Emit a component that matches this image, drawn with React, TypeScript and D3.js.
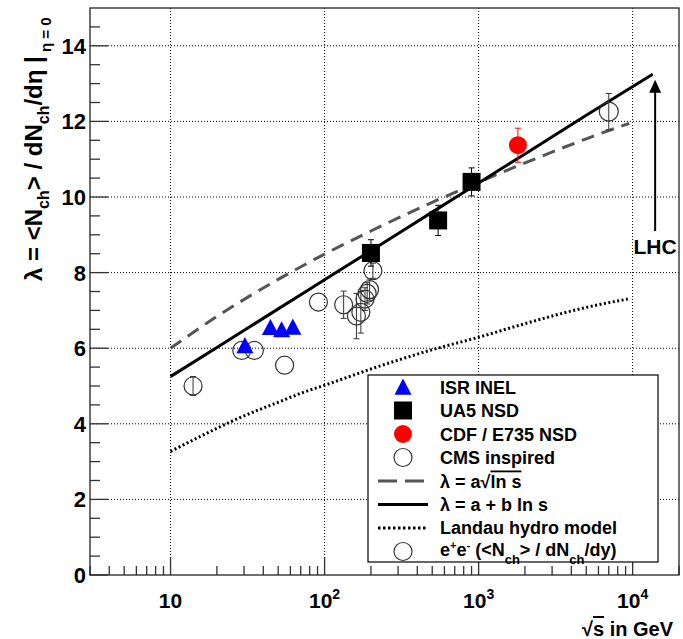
import React from "react";
import * as d3 from "d3";

// sqrt(s) in GeV and lambda values
const isrE = [30.4, 44.5, 52.6, 62.2];
const isrL = [6.07, 6.55, 6.49, 6.56];

const ua5E = [200, 546, 900];
const ua5L = [8.52, 9.38, 10.4];
const ua5Err = [0.35, 0.4, 0.37];

const cdfE = [1800];
const cdfL = [11.37];
const cdfErr = [0.45];

const cmsE = [7000];
const cmsL = [12.26];
const cmsErr = [0.48];

const eeE = [14, 29, 35, 55, 91.2, 133, 161, 172, 183, 189, 196, 206];
const eeL = [5.0, 5.94, 5.94, 5.55, 7.22, 7.15, 6.85, 6.95, 7.3, 7.45, 7.55, 8.05];
const eeErr = [0.25, 0, 0, 0, 0, 0.36, 0.6, 0.55, 0.3, 0.28, 0.28, 0.2];

// model curves, read at several energies
const sqrtLnE = [10, 20, 50, 100, 200, 500, 1000, 2000, 5000, 9500];
const sqrtLnL = [6.0, 6.84, 7.82, 8.49, 9.1, 9.86, 10.39, 10.9, 11.54, 11.95];

const linE = [10, 20, 50, 100, 200, 500, 1000, 2000, 5000, 13500];
const linL = [5.25, 6.02, 7.04, 7.81, 8.58, 9.6, 10.37, 11.14, 12.16, 13.25];

const landauE = [10, 20, 27, 50, 76, 100, 200, 500, 1000, 2000, 5000, 9300];
const landauL = [3.27, 3.88, 4.13, 4.57, 4.86, 5.02, 5.45, 5.96, 6.29, 6.65, 7.08, 7.3];

const lhcE = 14000;
const lhcL = [13.1, 9.1];

const xTicks = [10, 100, 1000, 10000];
const xTickExp = ["", "2", "3", "4"];
const yTicks = [0, 2, 4, 6, 8, 10, 12, 14];

const W = 683;
const H = 639;
const FONT = "'Liberation Sans', Arial, Helvetica, sans-serif";

const x = d3.scaleLog().domain([3, 20000]).range([90, 679]);
const y = d3.scaleLinear().domain([0, 15]).range([575, 8]);

const tri = (cx: number, cy: number, s = 8.5) =>
  `M${cx},${cy - s}L${cx + s},${cy + s * 0.9}L${cx - s},${cy + s * 0.9}Z`;

const ErrBar = ({ e, l, err, color }: { e: number; l: number; err: number; color: string }) => {
  if (!err) return null;
  const cx = x(e);
  return (
    <g stroke={color} strokeWidth={1}>
      <line x1={cx} x2={cx} y1={y(l + err)} y2={y(l - err)} />
      <line x1={cx - 3} x2={cx + 3} y1={y(l + err)} y2={y(l + err)} />
      <line x1={cx - 3} x2={cx + 3} y1={y(l - err)} y2={y(l - err)} />
    </g>
  );
};

export default function App() {
  const line = (es: number[], ls: number[]) =>
    d3
      .line<number>()
      .x((d) => x(es[d]))
      .y((d) => y(ls[d]))
      .curve(d3.curveMonotoneX)(d3.range(es.length)) as string;

  // minor ticks
  const xMinor: number[] = [];
  for (let dec = 1; dec <= 10000; dec *= 10)
    for (let k = 2; k <= 9; k++) {
      const v = k * dec;
      if (v >= 3 && v <= 20000) xMinor.push(v);
    }
  const yMinor = d3.range(0.5, 15, 0.5).filter((v) => v % 2 !== 0);

  const legendRows = [387, 410.5, 434, 457.5, 481, 504.5, 528, 551.5];
  const lx = 403;
  const tx = 440;

  return (
    <svg
      width={W}
      height={H}
      style={{ position: "absolute", left: 0, top: 0, background: "#fff" }}
      fontFamily={FONT}
      fontWeight="bold"
    >
      <rect width={W} height={H} fill="#fff" />

      {/* grid */}
      <g stroke="#000" strokeWidth={1} strokeDasharray="1,2">
        {xTicks.map((t) => (
          <line key={"gx" + t} x1={x(t)} x2={x(t)} y1={y(15)} y2={y(0)} />
        ))}
        {yTicks.filter((t) => t > 0).map((t) => (
          <line key={"gy" + t} x1={x(3)} x2={x(20000)} y1={y(t)} y2={y(t)} />
        ))}
      </g>

      {/* ticks */}
      <g stroke="#333" strokeWidth={1.3}>
        {xTicks.map((t) => (
          <line key={"xt" + t} x1={x(t)} x2={x(t)} y1={y(0)} y2={y(0) - 18} />
        ))}
        {xMinor.map((t) => (
          <line key={"xm" + t} x1={x(t)} x2={x(t)} y1={y(0)} y2={y(0) - 9} />
        ))}
        {yTicks.map((t) => (
          <line key={"yt" + t} x1={x(3)} x2={x(3) + 18} y1={y(t)} y2={y(t)} />
        ))}
        {yMinor.map((t) => (
          <line key={"ym" + t} x1={x(3)} x2={x(3) + 10} y1={y(t)} y2={y(t)} />
        ))}
      </g>

      {/* tick labels */}
      {yTicks.map((t) => (
        <text key={"yl" + t} x={86} y={y(t)} dy="0.36em" textAnchor="end" fontSize={22}>
          {t}
        </text>
      ))}
      {xTicks.map((t, i) => (
        <text key={"xl" + t} x={x(t)} y={608} textAnchor="middle" fontSize={21}>
          10
          {xTickExp[i] && (
            <tspan fontSize={14} dy={-9}>
              {xTickExp[i]}
            </tspan>
          )}
        </text>
      ))}

      {/* curves */}
      <path d={line(landauE, landauL)} fill="none" stroke="#000" strokeWidth={3} strokeDasharray="2,2.5" />
      <path d={line(sqrtLnE, sqrtLnL)} fill="none" stroke="#555" strokeWidth={3} strokeDasharray="13,8" />
      <path d={line(linE, linL)} fill="none" stroke="#000" strokeWidth={3} />

      {/* e+e- points */}
      {eeE.map((e, i) => (
        <g key={"ee" + i}>
          <ErrBar e={e} l={eeL[i]} err={eeErr[i]} color="#333" />
          <circle cx={x(e)} cy={y(eeL[i])} r={9} fill="none" stroke="#333" strokeWidth={1.2} />
        </g>
      ))}

      {/* ISR */}
      {isrE.map((e, i) => (
        <path key={"isr" + i} d={tri(x(e), y(isrL[i]))} fill="#0000ff" />
      ))}

      {/* UA5 */}
      {ua5E.map((e, i) => (
        <g key={"ua5" + i}>
          <ErrBar e={e} l={ua5L[i]} err={ua5Err[i]} color="#000" />
          <rect x={x(e) - 9} y={y(ua5L[i]) - 9} width={18} height={18} fill="#000" />
        </g>
      ))}

      {/* CDF */}
      {cdfE.map((e, i) => (
        <g key={"cdf" + i}>
          <ErrBar e={e} l={cdfL[i]} err={cdfErr[i]} color="#ff0000" />
          <circle cx={x(e)} cy={y(cdfL[i])} r={9} fill="#ff0000" />
        </g>
      ))}

      {/* CMS */}
      {cmsE.map((e, i) => (
        <g key={"cms" + i}>
          <ErrBar e={e} l={cmsL[i]} err={cmsErr[i]} color="#333" />
          <circle cx={x(e)} cy={y(cmsL[i])} r={9.5} fill="none" stroke="#333" strokeWidth={1.2} />
        </g>
      ))}

      {/* LHC arrow */}
      <line x1={x(lhcE)} x2={x(lhcE)} y1={y(lhcL[0]) + 10} y2={y(lhcL[1])} stroke="#000" strokeWidth={2} />
      <path
        d={`M${x(lhcE)},${y(lhcL[0])}L${x(lhcE) + 6},${y(lhcL[0]) + 13}L${x(lhcE) - 6},${y(lhcL[0]) + 13}Z`}
        fill="#000"
      />
      <text x={x(lhcE)} y={254} textAnchor="middle" fontSize={21}>
        LHC
      </text>

      {/* frame */}
      <rect x={90} y={8} width={589} height={567} fill="none" stroke="#222" strokeWidth={1.3} />

      {/* legend */}
      <rect x={368} y={375} width={290} height={187} fill="#fff" stroke="#000" strokeWidth={1.2} />
      <path d={tri(lx, legendRows[0])} fill="#0000ff" />
      <rect x={lx - 9} y={legendRows[1] - 9} width={18} height={18} fill="#000" />
      <circle cx={lx} cy={legendRows[2]} r={9} fill="#ff0000" />
      <circle cx={lx} cy={legendRows[3]} r={9} fill="none" stroke="#333" strokeWidth={1.2} />
      <line x1={378} x2={428} y1={legendRows[4]} y2={legendRows[4]} stroke="#555" strokeWidth={3} strokeDasharray="19,8" />
      <line x1={378} x2={428} y1={legendRows[5]} y2={legendRows[5]} stroke="#000" strokeWidth={3} />
      <line x1={378} x2={428} y1={legendRows[6]} y2={legendRows[6]} stroke="#000" strokeWidth={3} strokeDasharray="2.5,2.5" />
      <circle cx={lx} cy={legendRows[7]} r={9} fill="none" stroke="#333" strokeWidth={1.2} />
      <g fontSize={18}>
        <text x={tx} y={legendRows[0] + 6.5}>ISR INEL</text>
        <text x={tx} y={legendRows[1] + 6.5}>UA5 NSD</text>
        <text x={tx} y={legendRows[2] + 6.5}>CDF / E735 NSD</text>
        <text x={tx} y={legendRows[3] + 6.5}>CMS inspired</text>
        <text x={tx} y={legendRows[4] + 6.5}>
          λ = a√<tspan style={{ textDecoration: "overline" }}>ln s</tspan>
        </text>
        <text x={tx} y={legendRows[5] + 6.5}>λ = a + b ln s</text>
        <text x={tx} y={legendRows[6] + 5.5}>Landau hydro model</text>
        <text x={tx} y={legendRows[7] + 4.5}>
          e<tspan fontSize={11} dy={-7}>+</tspan>
          <tspan dy={7}>e</tspan>
          <tspan fontSize={11} dy={-7}>-</tspan>
          <tspan dy={7}> (&lt;N</tspan>
          <tspan fontSize={13} dy={8}>ch</tspan>
          <tspan dy={-8}>&gt; / dN</tspan>
          <tspan fontSize={13} dy={8}>ch</tspan>
          <tspan dy={-8}>/dy)</tspan>
        </text>
      </g>

      {/* axis titles */}
      <text x={673} y={636} textAnchor="end" fontSize={20}>
        √<tspan style={{ textDecoration: "overline" }}>s</tspan> in GeV
      </text>
      <text transform="translate(42,281) rotate(-90)" fontSize={24}>
        λ = &lt;N<tspan fontSize={16} dy={7}>ch</tspan>
        <tspan dy={-7}>&gt; / dN</tspan>
        <tspan fontSize={16} dy={7}>ch</tspan>
        <tspan dy={-7}>/dη |</tspan>
        <tspan fontSize={15} dy={9}> η = 0</tspan>
      </text>
    </svg>
  );
}
